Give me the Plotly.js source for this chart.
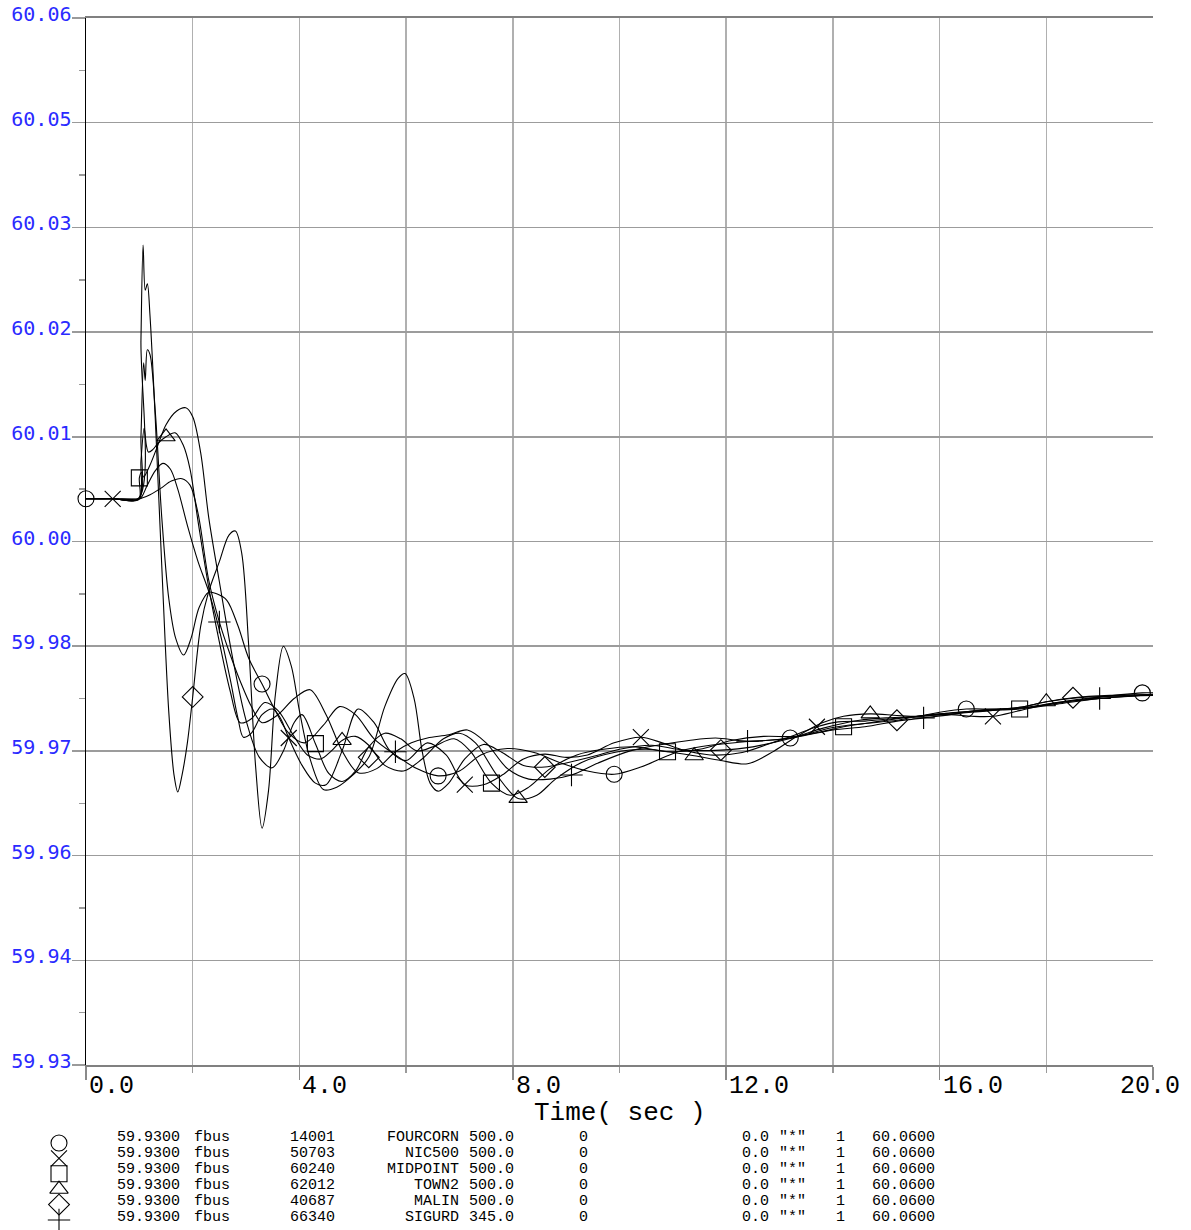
<!DOCTYPE html>
<html>
<head>
<meta charset="utf-8">
<script src="https://cdn.plot.ly/plotly-3.0.1.min.js"></script>
<style>html,body{margin:0;padding:0;background:#fff;}#chart{width:1191px;height:1230px;}</style>
</head>
<body>
<div id="chart"></div>
<script>
// ---------------- DATA ----------------
const busNames  = ["FOURCORN", "NIC500", "MIDPOINT", "TOWN2", "MALIN", "SIGURD"];
const busNumbers = ["14001", "50703", "60240", "62012", "40687", "66340"];
const busKV     = ["500.0", "500.0", "500.0", "500.0", "500.0", "345.0"];
const symbols   = ["circle-open", "x-thin-open", "square-open", "triangle-up-open", "diamond-open", "cross-thin-open"];
const channelMin = "59.9300";
const channelMax = "60.0600";
const channelType = "fbus";
const channelCols = ["0", "0.0", "\"*\"", "1"];

const t_FOURCORN = [0,0.5,0.99,1.03,1.08,1.11,1.15,1.2,1.3,1.42,1.55,1.68,1.83,1.97,2.12,2.3,2.45,2.64,2.85,3.05,3.3,3.55,3.8,4.1,4.45,4.75,5.05,5.4,5.8,6.2,6.6,7.0,7.4,7.9,8.4,8.9,9.4,9.9,10.4,10.9,11.2,11.7,12.3,13.2,13.8,14.5,15.0,15.6,16.0,16.5,17.0,17.5,18.1,18.8,19.8,20.0];
const v_FOURCORN = [60.0003,60.0003,60.0003,60.0080,60.0172,60.0150,60.0188,60.0182,60.0110,59.9980,59.9880,59.9830,59.9809,59.9830,59.9868,59.9887,59.9885,59.9877,59.9845,59.9805,59.9773,59.9740,59.9712,59.9700,59.9722,59.9745,59.9735,59.9705,59.9685,59.9668,59.9659,59.9665,59.9685,59.9693,59.9688,59.9675,59.9665,59.9661,59.9670,59.9684,59.9691,59.9697,59.9701,59.9706,59.9718,59.9728,59.9731,59.9733,59.9738,59.9742,59.9742,59.9743,59.9748,59.9755,59.9762,59.9762];

const t_NIC500 = [0,0.5,1.0,1.05,1.15,1.3,1.44,1.58,1.72,1.9,2.1,2.3,2.5,2.7,2.85,2.95,3.1,3.3,3.5,3.65,3.8,4.05,4.3,4.5,4.8,5.1,5.4,5.7,6.0,6.4,6.75,7.1,7.45,7.8,8.2,8.6,9.0,9.4,9.9,10.4,10.8,11.2,11.7,12.3,12.9,13.3,13.7,14.1,14.6,15.1,15.6,16.2,16.6,17.0,17.5,18.2,19.0,20.0];
const v_NIC500 = [60.0003,60.0003,60.0003,60.0006,60.0020,60.0038,60.0047,60.0040,60.0015,59.9970,59.9925,59.9888,59.9840,59.9780,59.9730,59.9707,59.9712,59.9735,59.9742,59.9730,59.9706,59.9672,59.9650,59.9648,59.9690,59.9742,59.9725,59.9690,59.9678,59.9700,59.9685,59.9648,59.9648,59.9660,59.9680,59.9686,59.9682,59.9685,59.9700,59.9707,59.9700,59.9691,59.9685,59.9688,59.9701,59.9710,59.9720,59.9726,59.9727,59.9730,59.9733,59.9735,59.9733,59.9733,59.9740,59.9750,59.9757,59.9760];

const t_MIDPOINT = [0,0.5,0.99,1.0,1.04,1.08,1.2,1.35,1.5,1.7,1.87,2.0,2.15,2.3,2.5,2.75,3.0,3.25,3.49,3.7,3.9,4.05,4.3,4.55,4.8,5.05,5.3,5.6,5.9,6.2,6.5,6.9,7.2,7.6,7.95,8.3,8.7,9.2,9.7,10.3,10.9,11.5,12.1,12.7,13.3,13.8,14.2,14.7,15.2,15.6,16.2,16.8,17.5,18.2,19.0,20.0];
const v_MIDPOINT = [60.0003,60.0003,60.0002,60.0029,60.0036,60.0030,60.0045,60.0070,60.0095,60.0112,60.0116,60.0105,60.0060,59.9980,59.9900,59.9805,59.9728,59.9682,59.9669,59.9690,59.9725,59.9735,59.9699,59.9662,59.9652,59.9665,59.9695,59.9712,59.9705,59.9690,59.9695,59.9705,59.9690,59.9650,59.9635,59.9645,59.9668,59.9685,59.9692,59.9695,59.9689,59.9692,59.9703,59.9708,59.9708,59.9714,59.9720,59.9725,59.9730,59.9733,59.9737,59.9740,59.9742,59.9748,59.9755,59.9760];

const t_TOWN2 = [0,0.5,0.99,1.03,1.09,1.13,1.17,1.25,1.35,1.5,1.67,1.82,1.95,2.1,2.3,2.5,2.7,2.89,3.1,3.35,3.6,3.9,4.15,4.4,4.6,4.8,5.05,5.3,5.6,5.95,6.3,6.7,7.0,7.3,7.7,8.1,8.45,8.8,9.3,9.9,10.5,11.0,11.4,11.9,12.4,12.9,13.3,13.8,14.2,14.7,15.2,15.6,16.0,16.6,17.1,17.5,18.0,18.6,19.3,20.0];
const v_TOWN2 = [60.0003,60.0003,60.0003,60.0050,60.0091,60.0070,60.0061,60.0064,60.0072,60.0080,60.0085,60.0070,60.0040,59.9975,59.9893,59.9825,59.9765,59.9725,59.9730,59.9750,59.9740,59.9708,59.9685,59.9680,59.9690,59.9703,59.9708,59.9697,59.9672,59.9665,59.9680,59.9705,59.9712,59.9700,59.9660,59.9631,59.9635,59.9655,59.9676,59.9688,59.9692,59.9688,59.9684,59.9678,59.9674,59.9690,59.9707,59.9725,59.9733,59.9736,59.9734,59.9733,59.9735,59.9738,59.9741,59.9744,59.9751,59.9756,59.9758,59.9759];

const t_MALIN = [0,0.5,0.99,1.03,1.07,1.11,1.15,1.2,1.3,1.42,1.55,1.65,1.72,1.8,1.9,2.0,2.15,2.3,2.5,2.68,2.8,2.92,3.05,3.18,3.3,3.42,3.55,3.7,3.85,4.0,4.2,4.45,4.7,5.0,5.3,5.6,5.85,5.98,6.15,6.3,6.45,6.6,6.8,7.1,7.45,7.8,8.2,8.6,9.0,9.5,10.0,10.6,11.2,11.9,12.5,13.3,14.0,14.6,15.2,15.6,16.2,16.8,17.5,18.0,18.5,19.2,20.0];
const v_MALIN = [60.0003,60.0003,60.0004,60.0200,60.0318,60.0262,60.0270,60.0230,60.0100,59.9920,59.9740,59.9660,59.9639,59.9660,59.9700,59.9757,59.9845,59.9888,59.9925,59.9958,59.9963,59.9935,59.9820,59.9670,59.9594,59.9640,59.9760,59.9820,59.9795,59.9740,59.9680,59.9642,59.9645,59.9660,59.9682,59.9745,59.9780,59.9786,59.9755,59.9690,59.9650,59.9640,59.9650,59.9680,59.9698,59.9688,59.9672,59.9670,59.9675,59.9683,59.9692,59.9697,59.9691,59.9691,59.9695,59.9707,59.9719,59.9724,59.9728,59.9733,59.9737,59.9740,59.9744,59.9751,59.9756,59.9759,59.9760];

const t_SIGURD = [0,0.5,0.99,1.05,1.2,1.4,1.6,1.8,1.95,2.1,2.3,2.5,2.7,2.9,3.1,3.3,3.6,3.9,4.2,4.5,4.8,5.1,5.45,5.8,6.1,6.4,6.8,7.15,7.5,7.9,8.3,8.7,9.1,9.6,10.2,10.8,11.3,11.8,12.4,13.3,14.0,14.6,15.2,15.7,16.2,16.8,17.5,18.2,19.0,19.6,20.0];
const v_SIGURD = [60.0003,60.0003,60.0003,60.0004,60.0008,60.0016,60.0025,60.0028,60.0020,59.9985,59.9902,59.9850,59.9810,59.9775,59.9745,59.9725,59.9735,59.9755,59.9766,59.9735,59.9690,59.9663,59.9668,59.9689,59.9700,59.9706,59.9710,59.9716,59.9700,59.9668,59.9655,59.9655,59.9660,59.9675,59.9690,59.9698,59.9703,59.9706,59.9702,59.9707,59.9716,59.9720,59.9727,59.9731,59.9735,59.9741,59.9743,59.9750,59.9755,59.9758,59.9760];

const markerTimes = [
  [0, 3.3, 6.6, 9.9, 13.2, 16.5, 19.8],
  [0.5, 3.8, 7.1, 10.4, 13.7, 17.0],
  [1.0, 4.3, 7.6, 10.9, 14.2, 17.5],
  [1.5, 4.8, 8.1, 11.4, 14.7, 18.0],
  [2.0, 5.3, 8.6, 11.9, 15.2, 18.5],
  [2.5, 5.8, 9.1, 12.4, 15.7, 19.0]
];

const yTickVals = [59.93, 59.943, 59.956, 59.969, 59.982, 59.995, 60.008, 60.021, 60.034, 60.047, 60.06];
const yTickText = ["59.93", "59.94", "59.96", "59.97", "59.98", "60.00", "60.01", "60.02", "60.03", "60.05", "60.06"];
const xTickVals = [0, 4, 8, 12, 16, 20];
const xTickText = ["0.0", "4.0", "8.0", "12.0", "16.0", "20.0"];
const xTitle = "Time( sec )";

// ---------------- BUILD ----------------
const W = 1191, H = 1230;
const seriesT = [t_FOURCORN, t_NIC500, t_MIDPOINT, t_TOWN2, t_MALIN, t_SIGURD];
const seriesV = [v_FOURCORN, v_NIC500, v_MIDPOINT, v_TOWN2, v_MALIN, v_SIGURD];

function valueAt(ts, vs, t) {
  for (let i = 0; i < ts.length; i++) if (Math.abs(ts[i] - t) < 1e-9) return vs[i];
  return null;
}

const traces = [];
for (let s = 0; s < seriesT.length; s++) {
  traces.push({
    type: 'scatter', mode: 'lines', x: seriesT[s], y: seriesV[s],
    xaxis: 'x', yaxis: 'y',
    line: {color: '#000', width: 1.1, shape: 'spline', smoothing: 0.9},
    hoverinfo: 'skip', showlegend: false
  });
}
for (let s = 0; s < seriesT.length; s++) {
  traces.push({
    type: 'scatter', mode: 'markers',
    x: markerTimes[s], y: markerTimes[s].map(t => valueAt(seriesT[s], seriesV[s], t)),
    xaxis: 'x', yaxis: 'y',
    marker: {symbol: symbols[s], size: 16, color: '#000', line: {width: 1.1, color: '#000'}},
    hoverinfo: 'skip', showlegend: false, cliponaxis: false
  });
}
// legend glyph column (row index on a hidden axis pair)
traces.push({
  type: 'scatter', mode: 'markers',
  x: busNames.map(() => 59), y: busNames.map((_, i) => i),
  xaxis: 'x2', yaxis: 'y2',
  marker: {symbol: symbols, size: 16, color: '#000', line: {width: 1.1, color: '#000'}},
  hoverinfo: 'skip', showlegend: false, cliponaxis: false
});

const annotations = [];
const legFont = {family: 'Liberation Mono, monospace', size: 15, color: '#000'};
function legText(i, px, text, anchor) {
  annotations.push({
    xref: 'paper', yref: 'y2', x: px / W, y: i, xanchor: anchor || 'left', yanchor: 'middle',
    yshift: 5.7 - 0.7 * i, text: text, showarrow: false, font: legFont
  });
}
busNames.forEach((name, i) => {
  legText(i, 115, channelMin);
  legText(i, 192, channelType);
  legText(i, 288, busNumbers[i]);
  legText(i, 461, name, 'right');
  legText(i, 467, busKV[i]);
  legText(i, 577, channelCols[0]);
  legText(i, 740, channelCols[1]);
  legText(i, 777, channelCols[2]);
  legText(i, 834, channelCols[3]);
  legText(i, 870, channelMax);
});
const axisBottom = 165 / 1212;
xTickVals.forEach((v, i) => {
  const last = i === xTickVals.length - 1;
  annotations.push({
    xref: 'x', yref: 'paper', x: v, y: axisBottom, xanchor: last ? 'right' : 'left', yanchor: 'top',
    xshift: last ? 29 : 1, yshift: -5, text: xTickText[i], showarrow: false,
    font: {family: 'Liberation Mono, monospace', size: 25, color: '#000'}
  });
});
annotations.push({
  xref: 'paper', yref: 'paper', x: 619.5 / W, y: axisBottom, xanchor: 'center', yanchor: 'top',
  yshift: -31, text: xTitle, showarrow: false,
  font: {family: 'Liberation Mono, monospace', size: 26, color: '#000'}
});

const layout = {
  width: W, height: H,
  margin: {l: 0, r: 0, t: 18, b: 0, pad: 0},
  paper_bgcolor: '#fff', plot_bgcolor: '#fff',
  showlegend: false,
  xaxis: {
    domain: [86 / W, 1153 / W], range: [0, 20], automargin: false,
    tickmode: 'linear', tick0: 0, dtick: 4, showticklabels: false,
    ticks: 'outside', ticklen: 13, tickwidth: 1.5, tickcolor: '#8a8a8a',
    showgrid: true, gridcolor: '#b0b0b0', gridwidth: 1.5,
    minor: {tickmode: 'linear', tick0: 0, dtick: 2, ticks: 'outside', ticklen: 6, tickwidth: 1.5, tickcolor: '#9a9a9a', showgrid: true, gridcolor: '#b0b0b0', gridwidth: 1.5},
    showline: true, linecolor: '#808080', linewidth: 2, mirror: true, zeroline: false
  },
  yaxis: {
    domain: [165 / 1212, 1], range: [59.93, 60.06], automargin: false,
    tickmode: 'array', tickvals: yTickVals, ticktext: yTickText,
    ticks: 'outside', ticklen: 13, tickwidth: 1.5, tickcolor: '#9a9a9a',
    ticklabelstandoff: -4, ticklabelshift: -4,
    tickfont: {family: 'DejaVu Sans Mono, monospace', size: 20, color: '#2a2aff'},
    showgrid: true, gridcolor: '#9c9c9c', gridwidth: 1.5,
    minor: {tickmode: 'linear', tick0: 59.9365, dtick: 0.013, ticks: 'outside', ticklen: 6, tickwidth: 1.5, tickcolor: '#9a9a9a', showgrid: false},
    showline: true, linecolor: '#000', linewidth: 1.5, mirror: false, zeroline: false
  },
  xaxis2: {domain: [0, 1], range: [0, W], visible: false, anchor: 'y2'},
  yaxis2: {domain: [0, 0.12], range: [5.649, -3.795], visible: false, anchor: 'x2'},
  annotations: annotations
};

Plotly.newPlot('chart', traces, layout, {staticPlot: true, displayModeBar: false});
</script>
</body>
</html>
